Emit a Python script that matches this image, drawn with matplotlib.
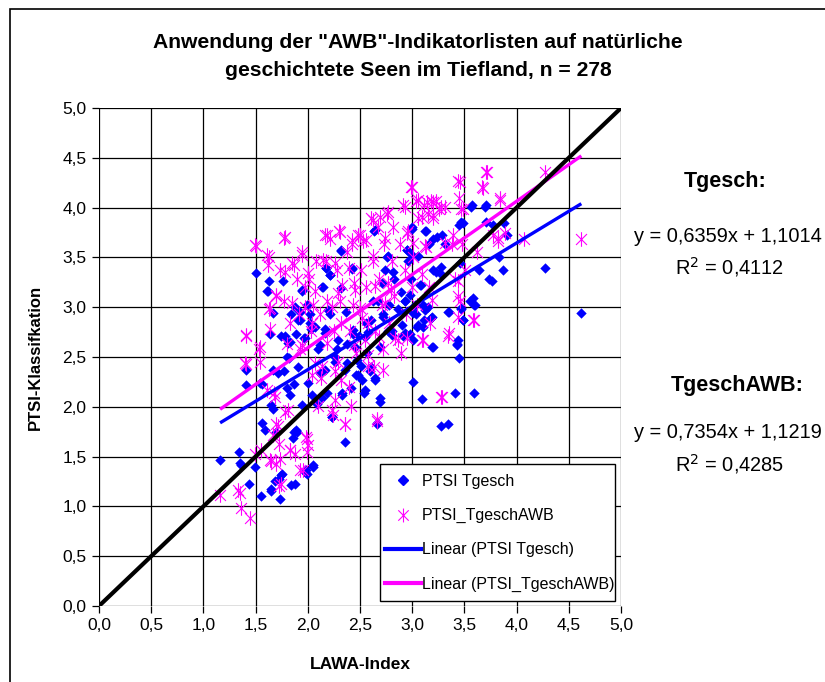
import matplotlib
matplotlib.use("Agg")
import matplotlib.pyplot as plt
from matplotlib.patches import Rectangle
from matplotlib.lines import Line2D
from matplotlib.path import Path

plt.rcParams['font.family'] = ['Liberation Sans', 'DejaVu Sans']

# PTSI Tgesch (LAWA-Index, PTSI)
blue_x = [1.16, 1.34, 1.35, 1.36, 1.41, 1.41, 1.44, 1.49, 1.50, 1.55, 1.56, 1.59, 1.56, 1.63, 1.61, 1.64,
          1.65, 1.67, 1.69, 1.70, 1.71, 1.73, 1.74, 1.74, 1.76, 1.77, 1.78, 1.80, 1.82, 1.83, 1.84, 1.84,
          1.86, 1.87, 1.87, 1.88, 1.89, 1.90, 1.91, 1.93, 1.94, 1.96, 1.97, 1.98, 1.99, 1.99, 2.02, 2.03,
          2.05, 2.04, 2.09, 2.10, 2.12, 2.14, 2.16, 2.17, 2.18, 2.21, 2.21, 2.23, 2.26, 2.28, 2.32, 2.33,
          2.36, 2.37, 2.38, 2.41, 2.42, 2.43, 2.46, 2.47, 2.49, 2.51, 2.52, 2.54, 2.56, 2.57, 2.58, 2.60,
          2.62, 2.63, 2.64, 2.66, 2.67, 2.69, 2.71, 2.72, 2.76, 2.77, 2.78, 2.81, 2.82, 2.83, 2.86, 2.89,
          2.90, 2.91, 2.93, 2.95, 2.96, 2.98, 2.99, 3.00, 3.00, 3.01, 3.03, 3.04, 3.05, 3.06, 3.08, 3.09,
          3.10, 3.11, 3.13, 3.15, 3.16, 3.18, 3.19, 3.20, 3.23, 3.24, 3.28, 3.29, 3.31, 3.34, 3.35, 3.41,
          3.43, 3.44, 3.45, 3.45, 3.46, 3.47, 3.49, 3.49, 3.55, 3.56, 3.58, 3.59, 3.59, 3.64, 3.70, 3.74,
          3.77, 3.83, 3.87, 3.88, 3.91, 4.27, 4.62,
          2.15, 1.94, 2.32, 2.19, 1.93, 2.02, 2.07, 2.16, 1.97, 2.12, 2.29, 2.43, 2.55, 2.61, 2.72, 2.81,
          2.69, 2.45, 2.26, 2.38, 2.61, 2.48, 2.64, 2.36, 2.16, 2.00, 2.33, 2.55, 2.69, 1.94, 2.14, 1.91,
          3.76, 3.07, 2.98, 2.93, 3.12, 3.01, 3.19, 3.34, 3.60, 3.47, 3.49, 3.06, 3.10, 2.93, 3.01, 3.20,
          3.43, 2.23, 2.66, 1.89, 2.05, 1.88, 1.65, 1.72, 1.75, 1.81, 1.80, 1.67, 1.83, 1.65, 1.54, 1.67,
          1.62, 3.00, 3.12, 3.47, 3.57, 3.71, 3.71, 3.28, 3.20, 2.95, 3.27, 2.64, 2.32, 2.17, 2.21, 2.42,
          2.77, 2.74]
blue_y = [1.47, 1.55, 1.44, 1.42, 2.22, 2.37, 1.22, 1.40, 3.34, 1.10, 1.84, 1.77, 2.23, 3.26, 3.16, 2.73,
          1.15, 1.98, 1.26, 1.75, 2.34, 1.07, 1.32, 2.71, 3.26, 2.36, 2.71, 2.19, 2.49, 2.65, 1.21, 2.93,
          1.69, 1.75, 2.23, 3.00, 2.73, 1.75, 2.87, 2.95, 3.17, 2.69, 1.35, 1.37, 1.33, 3.02, 2.93, 2.78,
          1.40, 2.12, 2.03, 2.58, 2.34, 3.20, 2.78, 3.39, 2.14, 3.32, 2.93, 1.90, 2.45, 2.58, 3.56, 2.12,
          1.65, 2.95, 2.63, 2.19, 3.38, 2.73, 2.32, 2.47, 2.71, 2.41, 2.27, 2.14, 2.84, 2.54, 2.75, 2.36,
          3.06, 3.77, 2.27, 1.83, 3.06, 2.05, 3.24, 2.93, 3.50, 2.76, 3.02, 2.76, 3.35, 3.28, 2.98, 3.15,
          2.82, 2.71, 3.06, 3.57, 3.46, 2.73, 3.28, 3.81, 3.52, 2.25, 3.02, 2.93, 2.80, 3.51, 3.22, 2.08,
          3.02, 2.87, 3.77, 3.00, 3.63, 2.89, 2.60, 3.68, 3.35, 3.70, 1.81, 3.72, 3.63, 1.83, 2.95, 2.14,
          2.63, 2.67, 2.49, 3.83, 3.44, 2.98, 2.87, 3.85, 3.06, 4.01, 3.09, 3.02, 2.14, 3.37, 4.01, 3.28,
          3.83, 3.50, 3.37, 3.85, 3.72, 3.39, 2.94,
          3.20, 3.16, 3.19, 2.97, 2.87, 2.84, 2.80, 2.74, 2.69, 2.62, 2.67, 2.77, 2.70, 2.87, 2.90, 2.72,
          2.60, 2.60, 2.50, 2.44, 2.40, 2.32, 2.29, 2.37, 2.37, 2.24, 2.14, 2.17, 2.09, 2.02, 2.09, 2.40,
          3.26, 3.22, 3.12, 3.06, 2.97, 2.94, 2.90, 2.95, 3.02, 2.99, 2.87, 2.82, 2.80, 2.74, 2.67, 2.60,
          2.62, 1.90, 1.84, 1.77, 1.42, 1.22, 1.17, 1.28, 1.33, 2.64, 2.50, 2.37, 2.12, 2.02, 2.24, 2.94,
          3.16, 3.79, 3.77, 3.86, 4.03, 4.03, 3.86, 3.40, 3.37, 3.57, 3.34, 3.78, 3.57, 3.39, 3.32, 3.39,
          3.51, 3.37]

# PTSI_TgeschAWB
mag_x = [1.16, 1.35, 1.36, 1.45, 1.41, 1.41, 1.50, 1.53, 1.55, 1.63, 1.63, 1.64, 1.65, 1.68, 1.70, 1.71,
         1.73, 1.74, 1.78, 1.78, 1.80, 1.81, 1.83, 1.85, 1.87, 1.88, 1.90, 1.92, 1.93, 1.94, 1.95, 1.97,
         1.98, 2.00, 2.01, 2.03, 2.04, 2.05, 2.08, 2.10, 2.12, 2.14, 2.16, 2.17, 2.18, 2.21, 2.23, 2.25,
         2.26, 2.28, 2.30, 2.31, 2.32, 2.33, 2.36, 2.38, 2.40, 2.41, 2.42, 2.43, 2.44, 2.46, 2.48, 2.51,
         2.52, 2.53, 2.55, 2.56, 2.58, 2.61, 2.62, 2.64, 2.66, 2.67, 2.68, 2.71, 2.72, 2.73, 2.76, 2.77,
         2.78, 2.81, 2.82, 2.83, 2.86, 2.88, 2.89, 2.91, 2.93, 2.94, 2.96, 2.99, 3.00, 3.01, 3.04, 3.05,
         3.06, 3.09, 3.10, 3.11, 3.13, 3.15, 3.16, 3.18, 3.20, 3.23, 3.26, 3.29, 3.31, 3.34, 3.38, 3.41,
         3.44, 3.45, 3.46, 3.48, 3.49, 3.51, 3.58, 3.62, 3.67, 3.72, 3.77, 3.82, 3.84, 3.89, 4.07, 4.27,
         4.62,
         3.71, 3.00, 3.46, 3.68, 2.93, 3.06, 3.14, 3.20, 3.28, 3.47, 3.84, 3.09, 3.20, 2.95, 3.01, 3.12,
         3.31, 3.39, 3.82,
         2.18, 2.31, 2.42, 2.50, 2.56, 2.62, 2.69, 2.77, 2.74, 1.94, 2.15, 2.26, 2.39, 2.62, 2.00,
         1.41, 1.54, 1.54, 1.40, 1.64, 1.70, 1.77, 1.83, 1.61, 1.69,
         1.49, 1.77, 1.61, 1.62, 1.73, 1.85,
         2.07, 2.29, 2.45, 2.64, 2.80, 1.97, 2.23, 2.50, 2.74, 2.04, 2.32, 2.58, 1.94, 2.18, 2.44, 2.68,
         2.84, 2.07, 2.29, 2.58, 2.72, 2.13, 2.39, 2.63, 2.26,
         3.44, 3.19, 3.44, 3.59, 3.17, 3.35, 3.09, 2.95, 3.28, 3.44,
         1.33, 1.49, 1.64, 1.70, 1.72, 1.83, 1.70, 1.67, 1.78, 1.72,
         2.36, 2.66, 1.99, 1.99, 1.93, 2.24]
mag_y = [1.11, 1.13, 0.98, 0.88, 2.71, 2.43, 3.61, 2.58, 1.57, 3.50, 2.98, 2.78, 1.46, 2.14, 3.11, 1.81,
         1.48, 1.22, 3.70, 3.35, 2.63, 1.97, 1.57, 3.04, 3.42, 1.53, 3.28, 2.93, 2.58, 3.55, 1.37, 3.20,
         1.70, 1.62, 3.28, 2.76, 2.32, 3.02, 3.46, 2.01, 2.93, 2.41, 3.72, 3.46, 3.06, 3.68, 1.97, 2.76,
         2.36, 3.37, 3.77, 3.06, 2.27, 3.22, 1.83, 3.55, 2.76, 2.01, 3.63, 3.02, 3.24, 2.54, 3.72, 3.37,
         2.89, 3.66, 2.67, 3.20, 2.41, 3.90, 3.46, 2.76, 1.86, 3.81, 3.28, 3.02, 2.58, 3.63, 3.94, 3.24,
         2.84, 3.46, 3.81, 3.11, 2.67, 3.63, 2.54, 4.03, 3.37, 2.93, 3.77, 4.21, 3.20, 3.50, 4.07, 3.02,
         3.90, 3.33, 2.67, 4.03, 3.60, 3.94, 3.20, 4.07, 3.90, 4.07, 3.99, 2.10, 4.01, 2.71, 3.63, 3.28,
         4.27, 4.10, 3.06, 3.63, 3.99, 3.37, 2.87, 3.55, 4.21, 4.36, 3.72, 3.66, 4.10, 3.74, 3.68, 4.36,
         3.68,
         4.36, 4.21, 4.26, 4.20, 4.01, 4.08, 4.06, 4.06, 4.01, 3.99, 4.08, 3.91, 3.93, 3.74, 3.64, 3.61,
         3.64, 3.72, 3.69,
         3.72, 3.76, 3.67, 3.72, 3.67, 3.88, 3.91, 3.96, 3.69, 3.52, 3.47, 3.44, 3.39, 3.51, 3.34,
         2.72, 2.60, 2.45, 2.44, 2.99, 3.12, 3.06, 2.84, 2.17, 2.10,
         3.62, 3.69, 3.52, 3.42, 3.37, 3.44,
         3.16, 3.14, 3.17, 3.21, 3.17, 3.00, 3.00, 2.99, 3.04, 2.84, 2.84, 2.84, 2.62, 2.64, 2.62, 2.70,
         2.69, 2.44, 2.45, 2.52, 2.37, 2.29, 2.20, 2.40, 2.07,
         3.11, 3.07, 2.90, 2.87, 2.84, 2.74, 2.67, 2.69, 2.10, 3.26,
         1.16, 1.53, 1.47, 1.43, 1.20, 1.57, 1.83, 1.72, 1.95, 1.63,
         1.83, 1.88, 1.68, 1.55, 1.37, 1.92]

# Trend line coefficients (from the chart's equations) and x range
trend_blue = (0.6359, 1.1014)
trend_mag = (0.7354, 1.1219)
trend_x = [1.16, 4.62]
ticks = [0.0, 0.5, 1.0, 1.5, 2.0, 2.5, 3.0, 3.5, 4.0, 4.5, 5.0]
tick_labels = ["0,0", "0,5", "1,0", "1,5", "2,0", "2,5", "3,0", "3,5", "4,0", "4,5", "5,0"]

# Excel-style asterisk: vertical bar plus an X
star = Path([(0, -1), (0, 1), (-0.75, -0.75), (0.75, 0.75), (-0.75, 0.75), (0.75, -0.75)],
            [Path.MOVETO, Path.LINETO, Path.MOVETO, Path.LINETO, Path.MOVETO, Path.LINETO])

fig = plt.figure(figsize=(8.25, 6.82), dpi=100)
fig.patch.set_facecolor('white')
fig.patches.append(Rectangle((10/825, -0.1), 1.2, (682-9)/682 + 0.1, transform=fig.transFigure,
                             fill=False, edgecolor='black', linewidth=1.2))

ax = fig.add_axes([99/825, (682-606)/682, (621-99)/825, (606-108)/682])
ax.set_xlim(0, 5)
ax.set_ylim(0, 5)
ax.set_xticks(ticks)
ax.set_yticks(ticks)
ax.set_xticklabels(tick_labels, fontsize=12.5)
ax.set_yticklabels(tick_labels, fontsize=12.5)
ax.grid(True, color='black', linewidth=0.9)
ax.set_axisbelow(True)
for s in ax.spines.values():
    s.set_visible(False)
ax.tick_params(length=5, width=0.9, color='black', direction='out', pad=4)

ax.scatter(blue_x, blue_y, marker='D', s=28, color='#0000FF', linewidths=0, zorder=3,
           label='PTSI Tgesch')
ax.scatter(mag_x, mag_y, marker=star, s=110, color='#FF00FF', linewidths=0.8, zorder=3,
           label='PTSI_TgeschAWB')
bx = trend_x
ax.plot(bx, [trend_blue[0]*v + trend_blue[1] for v in bx], color='#0000FF', lw=2.4, zorder=4,
        label='Linear (PTSI Tgesch)', solid_capstyle='butt')
ax.plot(bx, [trend_mag[0]*v + trend_mag[1] for v in bx], color='#FF00FF', lw=2.4, zorder=4,
        label='Linear (PTSI_TgeschAWB)', solid_capstyle='butt')
ax.plot([0, 5], [0, 5], color='black', lw=3, zorder=5)

ax.set_xlabel('LAWA-Index', fontsize=12.5, fontweight='bold', labelpad=17)
ax.set_ylabel('PTSI-Klassifkation', fontsize=12, fontweight='bold', labelpad=14)

# legend box (drawn separately for Excel-like padding)
W, H = 522.0, 498.0
ax.add_patch(Rectangle(((380-99)/W, (606-601)/H), (615-380)/W, (601-464)/H, transform=ax.transAxes,
                       facecolor='white', edgecolor='black', linewidth=1.0, zorder=6))
handles = [
    Line2D([], [], marker='D', color='#0000FF', linestyle='none', markersize=5),
    Line2D([], [], marker=star, color='#FF00FF', linestyle='none', markersize=10, markeredgewidth=0.8),
    Line2D([], [], color='#0000FF', lw=3),
    Line2D([], [], color='#FF00FF', lw=3),
]
labels = ['PTSI Tgesch', 'PTSI_TgeschAWB', 'Linear (PTSI Tgesch)', 'Linear (PTSI_TgeschAWB)']
leg = ax.legend(handles, labels, loc='upper left', bbox_to_anchor=((385-99)/W, (606-474)/H),
                fontsize=11.5, frameon=False,
                labelspacing=1.2, handlelength=2.25, handletextpad=0.05, borderpad=0,
                borderaxespad=0)
leg.set_zorder(7)

fig.text(418/825, 1 - 42/682, 'Anwendung der "AWB"-Indikatorlisten auf natürliche',
         ha='center', va='center', fontsize=15.2, fontweight='bold')
fig.text(418/825, 1 - 70/682, 'geschichtete Seen im Tiefland, n = 278',
         ha='center', va='center', fontsize=15.2, fontweight='bold')

fig.text(725/825, 1 - 181/682, 'Tgesch:', ha='center', va='center', fontsize=15.5, fontweight='bold')
fig.text(728/825, 1 - 236/682, 'y = 0,6359x + 1,1014', ha='center', va='center', fontsize=14.4)
fig.text(730/825, 1 - 267/682, 'R$^2$ = 0,4112', ha='center', va='center', fontsize=14.4)
fig.text(737/825, 1 - 385/682, 'TgeschAWB:', ha='center', va='center', fontsize=15.5, fontweight='bold')
fig.text(728/825, 1 - 433/682, 'y = 0,7354x + 1,1219', ha='center', va='center', fontsize=14.4)
fig.text(730/825, 1 - 464/682, 'R$^2$ = 0,4285', ha='center', va='center', fontsize=14.4)

fig.savefig('out.png', dpi=100)
